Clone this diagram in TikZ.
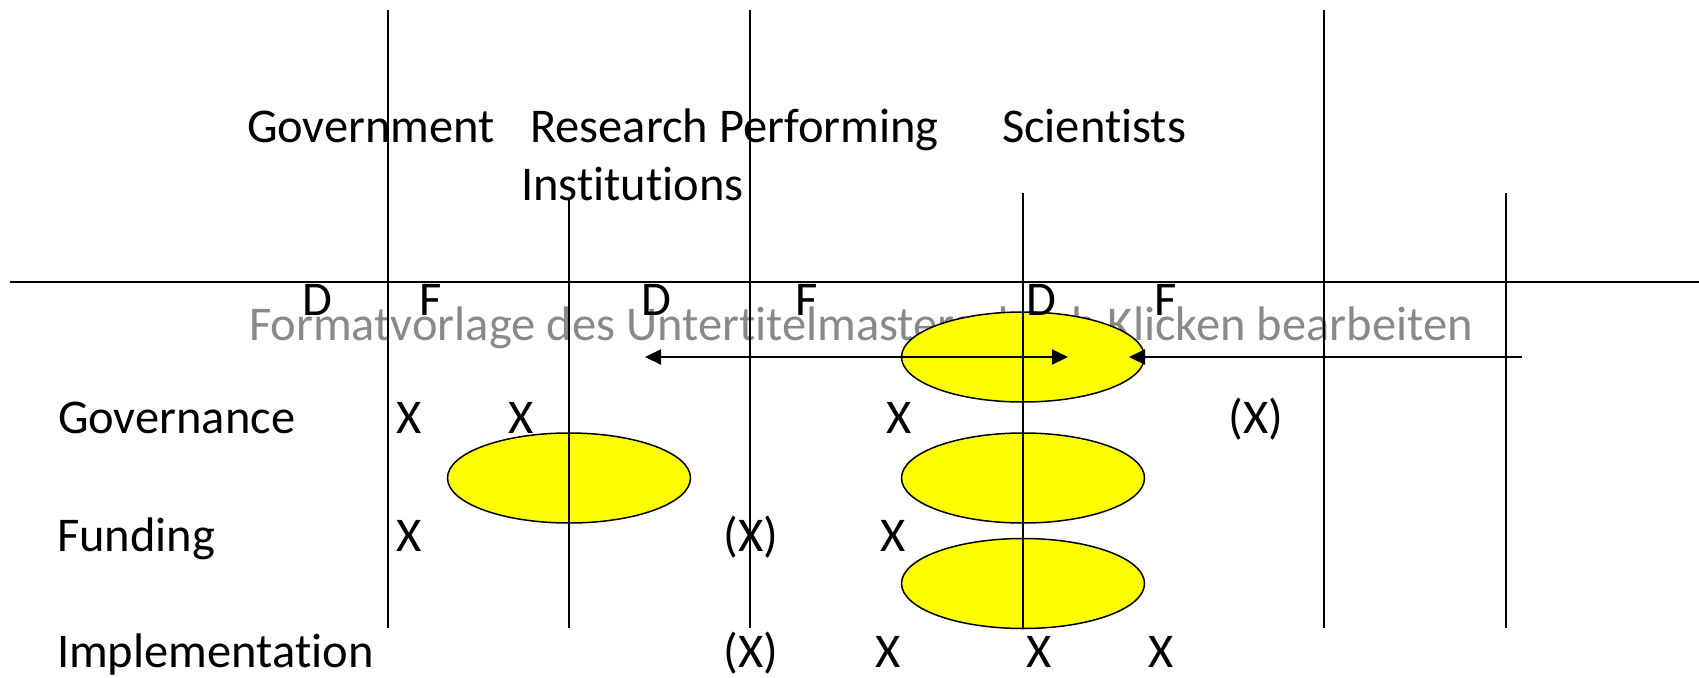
\documentclass[tikz,border=0pt]{standalone}
\usepackage{fontspec}
\setmainfont{Carlito}[Ligatures=NoCommon]
\usetikzlibrary{shapes.geometric,arrows.meta}
\definecolor{subgrey}{RGB}{137,137,137}
\definecolor{blobyellow}{RGB}{255,255,0}
\tikzset{
  txt/.style={inner sep=0pt, outer sep=0pt, font=\fontsize{48.5}{58}\selectfont, anchor=base west},
  xm/.style={inner sep=0pt, outer sep=0pt, font=\fontsize{48.5}{58}\selectfont, anchor=base},
  grey/.style={txt, text=subgrey},
  blob/.style={ellipse, draw=black, line width=1.5pt, fill=blobyellow, minimum width=243pt, minimum height=90pt, inner sep=0pt},
  vline/.style={line width=1.3pt},
  hline/.style={line width=1.8pt},
  arr/.style={line width=2.2pt, -{Triangle[length=16pt,width=15pt]}},
  darr/.style={line width=2.2pt, {Triangle[length=16pt,width=15pt]}-{Triangle[length=16pt,width=15pt]}}
}
\begin{document}
\begin{tikzpicture}[x=1pt,y=-1pt]
\useasboundingbox (0,0) rectangle (1699,677);
% grey placeholder text (under the ellipses)
\node[grey] (sub) at (249,340) {Formatvorlage des Untertitelmasters durch Klicken bearbeiten};
% ellipses
\node[blob] (e1) at (1023,357) {};
\node[blob] (e2) at (1023,478) {};
\node[blob] (e3) at (1023,583.5) {};
\node[blob] (e4) at (569,478) {};
% grid lines
\coordinate (v1t) at (388,10);  \coordinate (v1b) at (388,628);
\coordinate (v2t) at (569,200); \coordinate (v2b) at (569,628);
\coordinate (v3t) at (750,10);  \coordinate (v3b) at (750,628);
\coordinate (v4t) at (1023,193); \coordinate (v4b) at (1023,628);
\coordinate (v5t) at (1324,10); \coordinate (v5b) at (1324,628);
\coordinate (v6t) at (1506,193); \coordinate (v6b) at (1506,628);
\coordinate (hl) at (10,282); \coordinate (hr) at (1699,282);
\draw[vline] (v1t) -- (v1b);
\draw[vline] (v2t) -- (v2b);
\draw[vline] (v3t) -- (v3b);
\draw[vline] (v4t) -- (v4b);
\draw[vline] (v5t) -- (v5b);
\draw[vline] (v6t) -- (v6b);
\draw[hline] (hl) -- (hr);
% column headings
\node[txt] (gov) at (247,142) {Government};
\node[txt] (rpi) at (530,142) {Research Performing};
\node[txt] (inst) at (521,200) {Institutions};
\node[txt] (sci) at (1002,142) {Scientists};
% D / F
\node[xm] (d1) at (317,315) {D};
\node[xm] (f1) at (431,315) {F};
\node[xm] (d2) at (656,315) {D};
\node[xm] (f2) at (807,315) {F};
\node[xm] (d3) at (1041,315) {D};
\node[xm] (f3) at (1166,315) {F};
% row labels
\node[txt] (rg) at (58,433) {Governance};
\node[txt] (rf) at (57,551) {Funding};
\node[txt] (ri) at (57,667) {Implementation};
% marks
\node[xm] (g1) at (409,433) {X};
\node[xm] (g2) at (521,433) {X};
\node[xm] (g3) at (899,433) {X};
\node[xm] (g4) at (1256,433) {(X)};
\node[xm] (fu1) at (409,551) {X};
\node[xm] (fu2) at (751,551) {(X)};
\node[xm] (fu3) at (893,551) {X};
\node[xm] (im1) at (751,667) {(X)};
\node[xm] (im2) at (888,667) {X};
\node[xm] (im3) at (1039,667) {X};
\node[xm] (im4) at (1161,667) {X};
% arrows
\coordinate (a1l) at (645,357);
\coordinate (a1r) at (1068,357);
\coordinate (a2s) at (1522,357);
\coordinate (a2e) at (1129,357);
\draw[darr] (a1l) -- (a1r);
\draw[arr] (a2s) -- (a2e);
\end{tikzpicture}
\end{document}
